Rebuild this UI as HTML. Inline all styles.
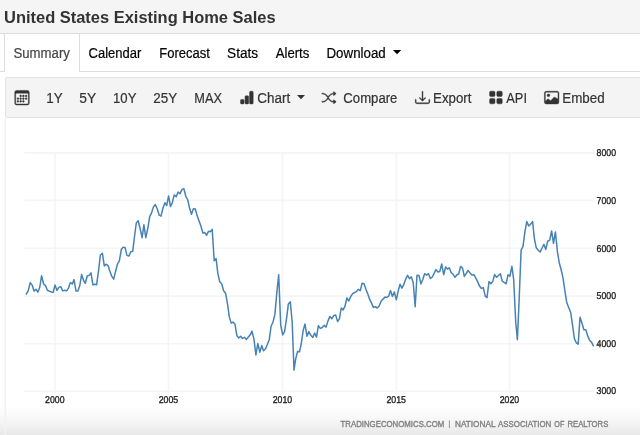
<!DOCTYPE html>
<html>
<head>
<meta charset="utf-8">
<title>United States Existing Home Sales</title>
<style>
*{box-sizing:border-box;margin:0;padding:0}
html,body{width:640px;height:435px;overflow:hidden;background:#fff}
body{font-family:"Liberation Sans",sans-serif;color:#333;position:relative}
#titlebar{position:absolute;left:0;top:0;width:640px;height:34px;background:#f5f5f5;border-bottom:1px solid #ddd}
#title{position:absolute;left:4px;top:8px;font-size:16.47px;font-weight:bold;line-height:19px;color:#333;white-space:nowrap;letter-spacing:0px}
#nav{position:absolute;left:0;top:34px;width:640px;height:38px;background:#fff;border-bottom:1px solid #ddd}
#nav .tab{position:absolute;top:0;height:38px;line-height:40px;-webkit-text-stroke:0.2px;font-size:13.5px;color:#000;white-space:nowrap}
#nav .active{left:4px;width:76px;height:38px;border-left:1px solid #ddd;border-right:1px solid #ddd;background:#fff;color:#333;text-align:center}
#toolbar{position:absolute;left:5px;top:77px;width:640px;height:41px;background:#f4f4f4;border:1px solid #e3e3e3;border-radius:2px 0 0 2px}
#toolbar .it{position:absolute;top:0;height:39px;line-height:39px;-webkit-text-stroke:0.2px;font-size:13.5px;color:#333;white-space:nowrap}
#chart{position:absolute;left:5px;top:118px;width:640px;height:330px;background:#fff}
svg{position:absolute;left:0;top:0}
#title,#nav .tab,#toolbar .it{will-change:transform}
</style>
</head>
<body>
<div id="titlebar"><div id="title">United States Existing Home Sales</div></div>
<div id="nav">
  <div class="tab active"></div>
</div>
<div id="toolbar"></div>
<div id="chart"></div>
<svg id="ov" width="640" height="435" viewBox="0 0 640 435">
<defs><linearGradient id="fade" x1="0" y1="0" x2="0" y2="1"><stop offset="0" stop-color="#fff"/><stop offset="0.35" stop-color="#fafafa"/><stop offset="0.7" stop-color="#f1f1f1"/><stop offset="1" stop-color="#e8e8e8"/></linearGradient></defs>
<rect x="0" y="405" width="640" height="30" fill="url(#fade)"/>
<path d="M5.3,118 V435" stroke="#f2f2f2" stroke-width="1.6" fill="none"/>
<g stroke="#f5f5f5" stroke-width="1.6" fill="none">
<path d="M24.4,152.85 H594.6"/>
<path d="M24.4,200.35 H594.6"/>
<path d="M24.4,248.30 H594.6"/>
<path d="M24.4,296.10 H594.6"/>
<path d="M24.4,343.70 H594.6"/>
<path d="M24.4,391.25 H594.6"/>
<path d="M54.9,152.85 V394.5"/>
<path d="M168.5,152.85 V394.5"/>
<path d="M282.5,152.85 V394.5"/>
<path d="M396.3,152.85 V394.5"/>
<path d="M509.5,152.85 V394.5"/>
</g>
<path d="M26.3,294.0 L28.1,291.1 L30.2,282.6 L32.1,285.1 L34.0,291.1 L36.0,289.2 L37.9,292.2 L39.8,287.0 L41.6,275.7 L43.6,284.0 L45.5,285.6 L47.4,290.2 L49.3,291.1 L51.3,292.0 L53.2,292.2 L55.0,285.1 L56.9,290.2 L58.9,287.4 L60.8,286.7 L62.7,290.9 L64.7,290.2 L66.6,290.9 L68.5,288.1 L70.4,282.6 L72.4,284.0 L74.0,279.6 L76.0,291.1 L77.9,291.1 L79.8,285.6 L81.6,274.6 L83.6,280.5 L85.3,283.3 L87.3,275.7 L89.2,275.4 L91.0,272.9 L92.9,284.9 L94.8,284.2 L96.6,284.7 L98.5,271.1 L100.4,255.0 L102.4,253.2 L104.3,266.0 L106.1,264.2 L108.0,265.6 L109.8,271.1 L111.8,276.4 L113.7,279.1 L115.6,271.1 L117.6,263.7 L119.3,261.2 L121.3,249.5 L123.2,247.1 L125.1,247.7 L126.9,255.4 L128.9,256.1 L130.8,251.8 L132.7,251.3 L134.7,235.0 L136.3,223.0 L138.2,220.7 L140.2,229.0 L142.1,237.7 L143.9,224.8 L145.8,237.7 L147.8,228.3 L149.7,216.6 L151.5,213.1 L153.4,206.9 L155.3,204.6 L157.3,209.0 L159.2,215.2 L161.0,216.1 L162.9,208.3 L164.9,202.8 L166.7,205.5 L168.6,195.9 L170.5,206.5 L172.3,202.8 L174.2,194.9 L176.2,196.8 L178.1,192.1 L180.0,193.8 L182.0,189.4 L183.9,188.7 L185.8,196.3 L187.8,200.0 L189.6,208.3 L191.5,214.2 L193.4,208.7 L195.3,209.0 L197.1,215.6 L199.1,221.1 L201.0,226.2 L202.9,233.1 L204.8,232.6 L206.6,235.2 L208.5,231.3 L210.3,231.7 L212.2,229.4 L214.2,260.7 L216.1,258.6 L217.9,273.9 L219.8,282.0 L221.7,283.8 L223.6,290.7 L225.6,293.2 L227.5,303.8 L229.3,316.9 L231.2,323.1 L233.0,322.1 L235.0,324.3 L236.9,335.7 L238.7,338.0 L240.6,336.2 L242.5,338.4 L244.4,337.3 L246.4,339.4 L248.3,337.0 L250.2,334.8 L252.0,331.1 L254.0,339.4 L255.9,355.0 L257.8,343.5 L259.8,352.2 L261.7,345.6 L263.5,350.8 L265.4,349.0 L267.3,344.5 L269.3,339.4 L271.1,326.2 L273.0,322.0 L274.9,314.4 L276.8,292.9 L278.7,274.8 L280.7,325.0 L282.7,334.9 L284.6,331.3 L286.6,318.1 L288.3,304.3 L290.3,301.8 L292.2,322.2 L294.0,370.1 L295.6,359.4 L297.6,351.4 L299.5,351.8 L301.3,343.5 L303.1,330.8 L305.0,324.0 L307.0,336.3 L308.9,331.6 L310.8,335.3 L312.8,337.4 L314.7,333.0 L316.5,337.1 L318.4,325.7 L320.3,328.4 L322.3,327.5 L324.2,325.3 L326.1,327.1 L327.9,321.1 L329.9,316.4 L331.8,318.8 L333.7,315.6 L335.7,315.1 L337.6,321.6 L339.4,318.8 L341.2,308.0 L343.1,309.9 L345.1,305.9 L346.9,298.0 L348.8,301.0 L350.8,296.4 L352.7,293.6 L354.6,292.5 L356.4,291.6 L358.3,289.5 L360.3,290.6 L362.1,283.3 L364.0,283.7 L365.9,289.2 L367.9,294.3 L369.7,299.4 L371.6,303.3 L373.5,307.4 L375.4,306.7 L377.2,308.1 L379.2,306.0 L381.1,301.2 L383.0,299.1 L385.0,297.1 L386.8,297.5 L388.7,296.1 L390.5,290.6 L392.4,296.4 L394.3,292.0 L396.3,299.8 L398.2,291.1 L400.0,284.2 L401.9,288.1 L403.7,284.7 L405.7,279.1 L407.6,275.4 L409.5,278.7 L411.3,276.8 L413.2,282.7 L415.2,306.7 L417.0,275.3 L419.0,275.6 L420.9,283.9 L422.8,279.5 L424.6,273.7 L426.6,275.1 L428.5,273.7 L430.4,278.5 L432.3,277.0 L434.1,273.3 L435.9,269.6 L437.9,271.9 L439.8,271.5 L441.7,264.0 L443.7,274.7 L445.6,267.1 L447.4,269.1 L449.3,267.8 L451.2,272.6 L453.0,274.2 L455.0,277.4 L456.9,274.7 L458.7,274.0 L460.6,266.4 L462.6,268.4 L464.3,276.4 L466.3,273.3 L468.1,270.5 L470.0,272.9 L471.9,275.1 L473.9,274.7 L475.7,277.8 L477.6,281.6 L479.5,286.1 L481.4,288.4 L483.3,287.6 L485.2,295.9 L487.0,297.6 L489.0,281.5 L490.9,283.8 L492.8,281.4 L494.6,274.6 L496.6,277.3 L498.5,275.5 L500.4,273.7 L502.3,281.4 L504.3,282.4 L506.1,283.8 L508.0,274.8 L509.9,276.2 L511.9,266.3 L513.7,279.7 L515.7,321.7 L517.4,339.7 L519.3,296.0 L521.1,250.2 L523.0,246.4 L525.0,231.2 L526.8,221.6 L528.7,226.0 L530.6,224.3 L532.6,221.6 L534.5,239.5 L536.3,247.8 L538.2,250.2 L540.1,251.9 L542.1,248.0 L543.9,244.3 L545.8,249.4 L547.7,241.1 L549.7,240.2 L551.6,230.9 L553.5,243.3 L555.4,231.9 L557.4,251.6 L559.3,263.0 L561.1,269.5 L563.1,278.4 L565.0,291.6 L566.8,302.8 L568.7,307.5 L570.7,312.5 L572.4,324.1 L574.4,338.6 L576.3,342.8 L578.2,344.1 L580.0,317.2 L582.0,323.2 L583.9,329.7 L585.8,329.7 L587.8,336.1 L589.6,340.3 L591.5,342.1 L593.4,345.8" fill="none" stroke="#4682b4" stroke-width="1.5" stroke-linejoin="round" stroke-linecap="round"/>
<g font-family="Liberation Sans, sans-serif" font-size="9.9" fill="#222" stroke="#222" stroke-width="0.35" text-rendering="geometricPrecision">
<text x="596.6" y="156.0" textLength="19.5" lengthAdjust="spacingAndGlyphs">8000</text>
<text x="596.6" y="203.5" textLength="19.5" lengthAdjust="spacingAndGlyphs">7000</text>
<text x="596.6" y="251.5" textLength="19.5" lengthAdjust="spacingAndGlyphs">6000</text>
<text x="596.6" y="299.3" textLength="19.5" lengthAdjust="spacingAndGlyphs">5000</text>
<text x="596.6" y="346.9" textLength="19.5" lengthAdjust="spacingAndGlyphs">4000</text>
<text x="596.6" y="394.4" textLength="19.5" lengthAdjust="spacingAndGlyphs">3000</text>
<text x="45.1" y="402.9" textLength="19.5" lengthAdjust="spacingAndGlyphs">2000</text>
<text x="158.7" y="402.9" textLength="19.5" lengthAdjust="spacingAndGlyphs">2005</text>
<text x="272.7" y="402.9" textLength="19.5" lengthAdjust="spacingAndGlyphs">2010</text>
<text x="386.5" y="402.9" textLength="19.5" lengthAdjust="spacingAndGlyphs">2015</text>
<text x="499.7" y="402.9" textLength="19.5" lengthAdjust="spacingAndGlyphs">2020</text>
</g>
<g font-family="Liberation Sans, sans-serif" font-size="9.8" fill="#808080" stroke="#808080" stroke-width="0.4">
<text x="340.5" y="427" textLength="103.8" lengthAdjust="spacingAndGlyphs">TRADINGECONOMICS.COM</text>
<text x="455" y="427" textLength="40.5" lengthAdjust="spacingAndGlyphs">NATIONAL</text>
<text x="498" y="427" textLength="53.3" lengthAdjust="spacingAndGlyphs">ASSOCIATION</text>
<text x="554.3" y="427" textLength="10.0" lengthAdjust="spacingAndGlyphs">OF</text>
<text x="567.5" y="427" textLength="40.8" lengthAdjust="spacingAndGlyphs">REALTORS</text>
<path d="M449.4,420.4 V428.1" stroke="#949494" stroke-width="1" fill="none"/>
</g>
<g fill="#333" fill-rule="evenodd" stroke="#333" stroke-width="0.5" stroke-linejoin="round">
<g transform="translate(14.75,90.45) scale(0.906)"><path d="M14 0H2a2 2 0 0 0-2 2v12a2 2 0 0 0 2 2h12a2 2 0 0 0 2-2V2a2 2 0 0 0-2-2zM1 3.857C1 3.384 1.448 3 2 3h12c.552 0 1 .384 1 .857v10.286c0 .473-.448.857-1 .857H2c-.552 0-1-.384-1-.857V3.857z"/><path d="M6.500 7a1 1 0 1 0 0-2 1 1 0 0 0 0 2zm3 0a1 1 0 1 0 0-2 1 1 0 0 0 0 2zm3 0a1 1 0 1 0 0-2 1 1 0 0 0 0 2zm-9 3a1 1 0 1 0 0-2 1 1 0 0 0 0 2zm3 0a1 1 0 1 0 0-2 1 1 0 0 0 0 2zm3 0a1 1 0 1 0 0-2 1 1 0 0 0 0 2zm3 0a1 1 0 1 0 0-2 1 1 0 0 0 0 2zm-9 3a1 1 0 1 0 0-2 1 1 0 0 0 0 2zm3 0a1 1 0 1 0 0-2 1 1 0 0 0 0 2zm3 0a1 1 0 1 0 0-2 1 1 0 0 0 0 2z"/></g>
<g transform="translate(239.60,90.35) scale(0.906)"><path d="M1 11a1 1 0 0 1 1-1h2a1 1 0 0 1 1 1v3a1 1 0 0 1-1 1H2a1 1 0 0 1-1-1v-3zm5-4a1 1 0 0 1 1-1h2a1 1 0 0 1 1 1v7a1 1 0 0 1-1 1H7a1 1 0 0 1-1-1V7zm5-5a1 1 0 0 1 1-1h2a1 1 0 0 1 1 1v12a1 1 0 0 1-1 1h-2a1 1 0 0 1-1-1V2z"/></g>
<g transform="translate(321.75,90.45) scale(0.906)"><path d="M0 3.500A.5.5 0 0 1 .5 3H1c2.202 0 3.827 1.240 4.874 2.418.490.552.865 1.102 1.126 1.532.260-.430.636-.980 1.126-1.532C9.173 4.240 10.798 3 13 3v1c-1.798 0-3.173 1.010-4.126 2.082A9.624 9.624 0 0 0 7.556 8a9.624 9.624 0 0 0 1.317 1.918C9.828 10.990 11.204 12 13 12v1c-2.202 0-3.827-1.240-4.874-2.418A10.595 10.595 0 0 1 7 9.050c-.260.430-.636.980-1.126 1.532C4.827 11.760 3.202 13 1 13H.5a.5.5 0 0 1 0-1H1c1.798 0 3.173-1.010 4.126-2.082A9.624 9.624 0 0 0 6.444 8a9.624 9.624 0 0 0-1.317-1.918C4.172 5.010 2.796 4 1 4H.5a.5.5 0 0 1-.5-.5z"/><path d="M13 5.466V1.534a.25.25 0 0 1 .410-.192l2.360 1.966c.120.100.120.284 0 .384l-2.360 1.966a.25.25 0 0 1-.410-.192zm0 9v-3.932a.25.25 0 0 1 .410-.192l2.360 1.966c.120.100.120.284 0 .384l-2.360 1.966a.25.25 0 0 1-.410-.192z"/></g>
<g transform="translate(415.25,90.25) scale(0.906)"><path d="M.5 9.900a.5.5 0 0 1 .5.5v2.500a1 1 0 0 0 1 1h12a1 1 0 0 0 1-1v-2.500a.5.5 0 0 1 1 0v2.500a2 2 0 0 1-2 2H2a2 2 0 0 1-2-2v-2.500a.5.5 0 0 1 .5-.5z"/><path d="M7.646 11.854a.5.5 0 0 0 .708 0l3-3a.5.5 0 0 0-.708-.708L8.500 10.293V1.500a.5.5 0 0 0-1 0v8.793L5.354 8.146a.5.5 0 1 0-.708.708l3 3z"/></g>
<g transform="translate(488.65,90.25) scale(0.906)"><path d="M1 2.500A1.500 1.500 0 0 1 2.500 1h3A1.500 1.500 0 0 1 7 2.500v3A1.500 1.500 0 0 1 5.500 7h-3A1.500 1.500 0 0 1 1 5.500v-3zm8 0A1.500 1.500 0 0 1 10.500 1h3A1.500 1.500 0 0 1 15 2.500v3A1.500 1.500 0 0 1 13.500 7h-3A1.500 1.500 0 0 1 9 5.500v-3zm-8 8A1.500 1.500 0 0 1 2.500 9h3A1.500 1.500 0 0 1 7 10.500v3A1.500 1.500 0 0 1 5.500 15h-3A1.500 1.500 0 0 1 1 13.500v-3zm8 0A1.500 1.500 0 0 1 10.500 9h3a1.500 1.500 0 0 1 1.500 1.500v3a1.500 1.500 0 0 1-1.500 1.500h-3A1.500 1.500 0 0 1 9 13.500v-3z"/></g>
<g transform="translate(544.40,90.35) scale(0.906)"><path d="M6.002 5.500a1.500 1.500 0 1 1-3 0 1.500 1.500 0 0 1 3 0z"/><path d="M2.002 1a2 2 0 0 0-2 2v10a2 2 0 0 0 2 2h12a2 2 0 0 0 2-2V3a2 2 0 0 0-2-2h-12zm12 1a1 1 0 0 1 1 1v6.500l-3.777-1.947a.5.5 0 0 0-.577.093l-3.710 3.710-2.660-1.772a.5.5 0 0 0-.630.062L1.002 12V3a1 1 0 0 1 1-1h12z"/></g>
</g>
<path d="M297,95 h8 l-4,4.3 z" fill="#333"/>
<path d="M392.9,50.0 h8.3 l-4.15,4.3 z" fill="#000"/>
<g font-family="Liberation Sans, sans-serif" font-size="14" stroke-width="0.2">
<text x="13.50" y="58.0" textLength="56.40" lengthAdjust="spacingAndGlyphs" fill="#444" stroke="#444">Summary</text>
<text x="88.55" y="58.0" textLength="52.80" lengthAdjust="spacingAndGlyphs" fill="#000" stroke="#000">Calendar</text>
<text x="159.30" y="58.0" textLength="50.60" lengthAdjust="spacingAndGlyphs" fill="#000" stroke="#000">Forecast</text>
<text x="227.10" y="58.0" textLength="31.00" lengthAdjust="spacingAndGlyphs" fill="#000" stroke="#000">Stats</text>
<text x="275.75" y="58.0" textLength="33.60" lengthAdjust="spacingAndGlyphs" fill="#000" stroke="#000">Alerts</text>
<text x="326.50" y="58.0" textLength="59.20" lengthAdjust="spacingAndGlyphs" fill="#000" stroke="#000">Download</text>
<text x="46.30" y="103" textLength="16.40" lengthAdjust="spacingAndGlyphs" fill="#333" stroke="#333">1Y</text>
<text x="79.30" y="103" textLength="16.90" lengthAdjust="spacingAndGlyphs" fill="#333" stroke="#333">5Y</text>
<text x="113.05" y="103" textLength="23.40" lengthAdjust="spacingAndGlyphs" fill="#333" stroke="#333">10Y</text>
<text x="153.35" y="103" textLength="23.90" lengthAdjust="spacingAndGlyphs" fill="#333" stroke="#333">25Y</text>
<text x="194.30" y="103" textLength="27.60" lengthAdjust="spacingAndGlyphs" fill="#333" stroke="#333">MAX</text>
<text x="257.30" y="103" textLength="32.90" lengthAdjust="spacingAndGlyphs" fill="#333" stroke="#333">Chart</text>
<text x="343.35" y="103" textLength="54.05" lengthAdjust="spacingAndGlyphs" fill="#333" stroke="#333">Compare</text>
<text x="433.05" y="103" textLength="38.40" lengthAdjust="spacingAndGlyphs" fill="#333" stroke="#333">Export</text>
<text x="506.30" y="103" textLength="20.65" lengthAdjust="spacingAndGlyphs" fill="#333" stroke="#333">API</text>
<text x="562.30" y="103" textLength="42.40" lengthAdjust="spacingAndGlyphs" fill="#333" stroke="#333">Embed</text>
</g>
</svg>
</body>
</html>
